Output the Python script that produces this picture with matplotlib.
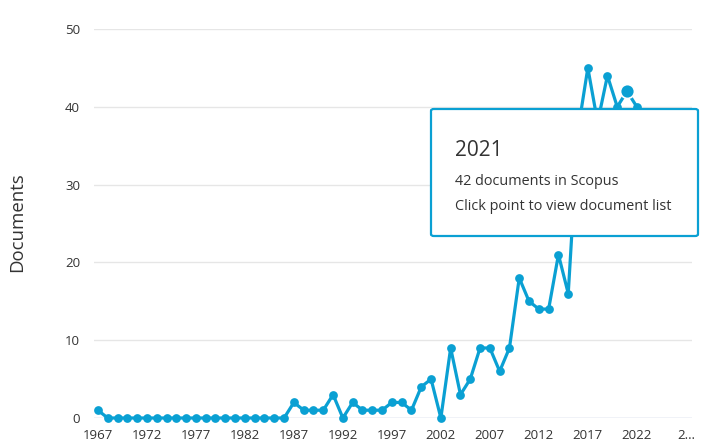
import matplotlib.pyplot as plt
from matplotlib.patches import FancyBboxPatch
import numpy as np

# Documents per year (Scopus)
years = list(range(1967, 2023))
docs = [1, 0, 0, 0, 0, 0, 0, 0, 0, 0,
        0, 0, 0, 0, 0, 0, 0, 0, 0, 0,
        2, 1, 1, 1, 3, 0, 2, 1, 1, 1,
        2, 2, 1, 4, 5, 0, 9, 3, 5, 9,
        9, 6, 9, 18, 15, 14, 14, 21, 16, 37,
        45, 38, 44, 40, 42, 40]
tick_years = list(range(1967, 2028, 5))
tick_labels = [str(y) for y in tick_years[:-1]] + ['2…']
hover_year = 2021
hover_value = 42

blue = '#0aa0d3'
text_col = '#333333'

plt.rcParams['font.family'] = ['Open Sans', 'DejaVu Sans']

fig = plt.figure(figsize=(7.2, 4.47), dpi=100)
ax = fig.add_axes([94 / 720, 29 / 447, (691.7 - 94) / 720, 389 / 447])

ax.plot(years, docs, '-o', color=blue, lw=2.3, markersize=6.3,
        markeredgewidth=0, clip_on=False, zorder=3)
# hovered point
ax.plot([hover_year], [hover_value], 'o', color=blue, markersize=10,
        markeredgecolor='white', markeredgewidth=1.2, clip_on=False, zorder=4)

ax.set_xlim(1966.6, 2027.6)
ax.set_ylim(0, 50)
ax.set_yticks(range(0, 51, 10))
ax.set_xticks(tick_years)
ax.set_xticklabels(tick_labels)

for s in ax.spines.values():
    s.set_visible(False)
ax.grid(axis='y', color='#e6e6e6', lw=1)
ax.grid(axis='x', visible=False)
ax.axhline(0, color='#ccd6eb', lw=1, zorder=1)
ax.set_axisbelow(True)
ax.tick_params(axis='both', length=0, labelsize=9.5, colors=text_col)
ax.tick_params(axis='y', pad=10)
ax.tick_params(axis='x', pad=8)

fig.text(17 / 720, 1 - 222 / 447, 'Documents', rotation=90, ha='center',
         va='center', fontsize=13.4, color=text_col)

# tooltip
x0, x1 = 431 / 720, 698 / 720
y0, y1 = 1 - 236 / 447, 1 - 109 / 447
box = FancyBboxPatch((x0, y0), x1 - x0, y1 - y0,
                     boxstyle='round,pad=0,rounding_size=0.004',
                     transform=fig.transFigure, facecolor='white',
                     edgecolor=blue, lw=1.6, zorder=10)
fig.patches.append(box)
fig.text(455 / 720, 1 - 156 / 447, str(hover_year), fontsize=15,
         color=text_col, va='baseline', zorder=11)
fig.text(455 / 720, 1 - 185 / 447, f'{hover_value} documents in Scopus',
         fontsize=10.4, color=text_col, va='baseline', zorder=11)
fig.text(455 / 720, 1 - 210.5 / 447, 'Click point to view document list',
         fontsize=10.4, color=text_col, va='baseline', zorder=11)

fig.savefig('out.png', dpi=100, facecolor='white')
